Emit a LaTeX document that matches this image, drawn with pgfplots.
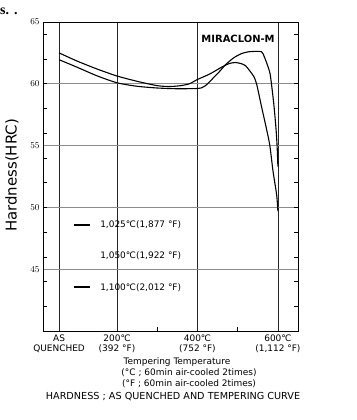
\documentclass[border=0pt]{standalone}
\usepackage{fontspec}
\setmainfont{DejaVu Sans}
\newfontfamily\seriffont{Liberation Serif}
\usepackage{pgfplots}
\pgfplotsset{compat=1.18}

\pgfplotstableread{
T     H
56    62.50
100   61.85
150   61.20
200   60.63
250   60.20
300   59.85
330   59.78
356   59.84
380   60.00
400   60.35
431   60.80
463   61.40
480   61.65
495   61.72
510   61.62
520   61.45
530   61.05
540   60.60
547   60.00
559   58.20
572   56.30
580   55.00
588   52.90
597   51.00
600   49.70
}\curveA

\pgfplotstableread{
T     H
56    61.95
100   61.35
150   60.65
200   60.08
250   59.80
300   59.66
350   59.60
400   59.62
412   59.70
420   59.85
430   60.15
440   60.50
455   61.00
470   61.55
490   62.10
510   62.45
530   62.60
559   62.60
566   62.20
572   61.70
580   60.90
584   60.00
590   58.30
595   56.50
598   55.00
600   53.30
}\curveB

\begin{document}
\begin{tikzpicture}
\begin{axis}[
  scale only axis,
  width=255bp, height=309bp,
  xmin=16, xmax=650, ymin=40, ymax=65,
  axis line style={line width=0.8bp},
  xtick={56,200,400,600},
  xticklabels={{AS\\QUENCHED},{200℃\\(392 °F)},{400℃\\(752 °F)},{600℃\\(1,112 °F)}},
  xticklabel style={align=center, font=\fontsize{9}{10}\selectfont},
  minor xtick={300,500},
  ytick={45,50,55,60,65},
  minor ytick={42,44,...,64},
  yticklabel style={font=\fontsize{9.5}{10}\selectfont},
  tick align=inside,
  major tick length=0pt,
  minor tick length=4bp,
  xtick pos=left,
  ytick pos=both,
  xmajorgrids, ymajorgrids,
  x grid style={black!85, line width=0.7bp},
  y grid style={black!45, line width=0.7bp},
  minor tick style={line width=0.6bp, black},
  legend image code/.code={\draw[black, line width=2bp] (0bp,0bp) -- (16bp,0bp);},
  legend style={draw=none, fill=none, at={(0.118,0.364)}, anchor=north west,
    font=\fontsize{9}{10}\selectfont, row sep=19bp, inner sep=0pt,
    cells={anchor=west},
    /tikz/every odd column/.append style={column sep=7bp}},
]
\addplot[black, line width=1.1bp, smooth, tension=0.4] table[x=T, y=H] {\curveA};
\addlegendentry{1,025℃(1,877 °F)}
\addlegendimage{empty legend}
\addlegendentry{1,050℃(1,922 °F)}
\addplot[black, line width=1.1bp, smooth, tension=0.4] table[x=T, y=H] {\curveB};
\addlegendentry{1,100℃(2,012 °F)}
\node[font=\fontsize{10}{10}\selectfont\bfseries] at (axis cs:501,63.6) {MIRACLON-M};
\end{axis}
\node[rotate=90, font=\fontsize{15}{15}\selectfont] at (-31bp,155.5bp) {Hardness(HRC)};
\node[font=\fontsize{9}{10}\selectfont] at (134bp,-31bp) {Tempering Temperature};
\node[font=\fontsize{9}{10}\selectfont] at (146bp,-41.5bp) {(°C ; 60min air-cooled 2times)};
\node[font=\fontsize{9}{10}\selectfont] at (146bp,-52.5bp) {(°F ; 60min air-cooled 2times)};
\node[font=\fontsize{9.7}{10}\selectfont] at (130bp,-66bp) {HARDNESS ; AS QUENCHED AND TEMPERING CURVE};
\node[anchor=base west, inner sep=0pt, font=\fontsize{14}{14}\selectfont\seriffont\bfseries] at (-43bp,316.5bp) {s.\hspace{5bp}.};
\path (-43bp,-89bp) rectangle (314bp,331bp);
\end{tikzpicture}
\end{document}
